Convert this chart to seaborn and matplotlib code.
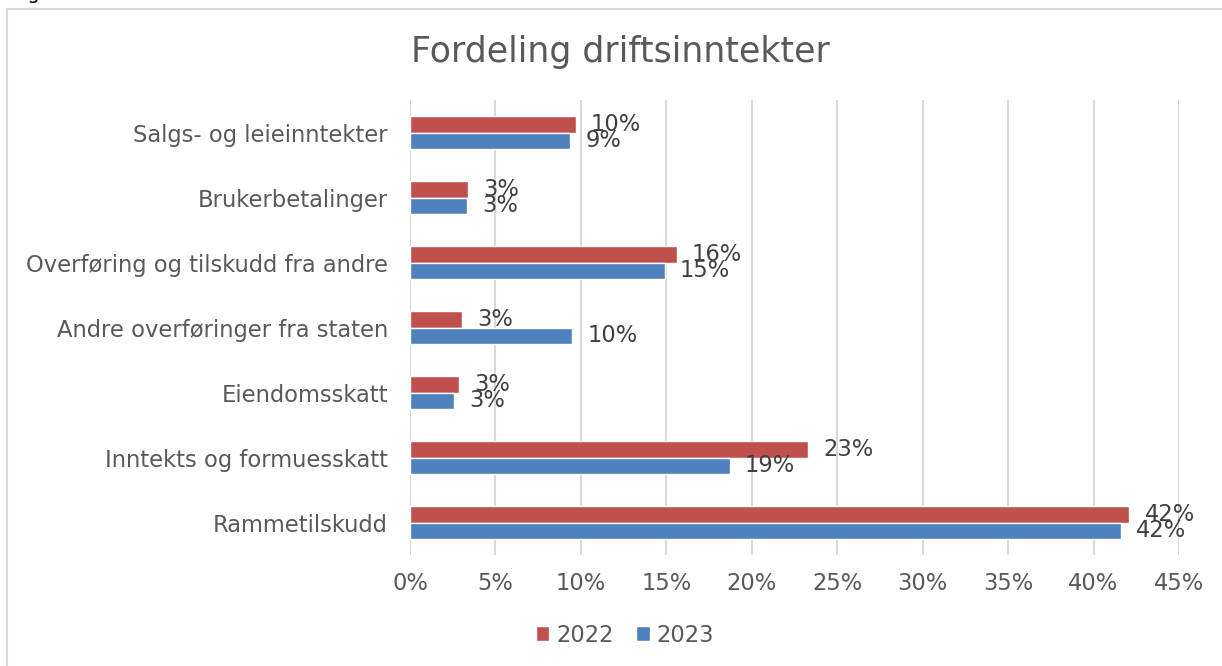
import pandas as pd
import seaborn as sns
import matplotlib.pyplot as plt
from matplotlib.patches import Rectangle

kategorier = [
    'Salgs- og leieinntekter',
    'Brukerbetalinger',
    'Overføring og tilskudd fra andre',
    'Andre overføringer fra staten',
    'Eiendomsskatt',
    'Inntekts og formuesskatt',
    'Rammetilskudd',
]
andel_2022 = [9.7, 3.37, 15.6, 3.04, 2.87, 23.3, 42.1]
andel_2023 = [9.36, 3.35, 14.9, 9.5, 2.55, 18.7, 41.6]
aar = ['2022', '2023']
x_ticks = [0, 5, 10, 15, 20, 25, 30, 35, 40, 45]

df = pd.DataFrame({
    'kategori': kategorier * 2,
    'andel': andel_2022 + andel_2023,
    'år': [aar[0]] * len(kategorier) + [aar[1]] * len(kategorier),
})

sns.set_theme(style='white')
plt.rcParams['font.family'] = ['DejaVu Sans']

W, H = 1222, 666
fig = plt.figure(figsize=(W / 100, H / 100), dpi=100)
ax = fig.add_axes([410 / W, 1 - 555 / H, 769 / W, 455 / H])

grey = '#595959'
colors = {'2022': '#C0504D', '2023': '#4F81BD'}
fs = 16.3

sns.barplot(data=df, y='kategori', x='andel', hue='år', hue_order=aar,
            order=kategorier, orient='h', palette=colors, width=0.5,
            saturation=1, ax=ax, legend=True)

for cont in ax.containers:
    ax.bar_label(cont, labels=[f'{v:.0f}%' for v in cont.datavalues],
                 padding=11, fontsize=fs, color='#404040')

ax.set_xlim(0, 45)
ax.set_ylim(6.5, -0.5)
ax.set_xticks(x_ticks)
ax.set_xticklabels([f'{t}%' for t in x_ticks])
ax.grid(axis='x', color='#D9D9D9', linewidth=1.5)
ax.set_axisbelow(True)
for s in ax.spines.values():
    s.set_visible(False)
ax.set_xlabel('')
ax.set_ylabel('')
ax.tick_params(axis='both', labelsize=fs, colors=grey, length=0)
ax.tick_params(axis='x', pad=12)
ax.tick_params(axis='y', pad=16)

leg = ax.legend(loc='center', bbox_to_anchor=(625 / W, 1 - 635 / H),
                bbox_transform=fig.transFigure, ncol=2, frameon=False,
                fontsize=fs, handlelength=0.6, handleheight=0.6,
                handletextpad=0.3, columnspacing=1.0)
for t in leg.get_texts():
    t.set_color(grey)

fig.text(620 / W, 1 - 52 / H, 'Fordeling driftsinntekter', ha='center',
         va='center', fontsize=25, color=grey)

# caption above the chart, cut off at the top edge
fig.text(12 / W, 1 + 1 / H, 'Figur', ha='left', va='baseline',
         fontsize=14, color='black')

fig.patches.append(Rectangle((7.5 / W, -0.1), 1.2, 1 - 8.5 / H + 0.1,
                             transform=fig.transFigure, fill=False,
                             edgecolor='#D9D9D9', linewidth=1.5))

fig.savefig('out.png', dpi=100)
